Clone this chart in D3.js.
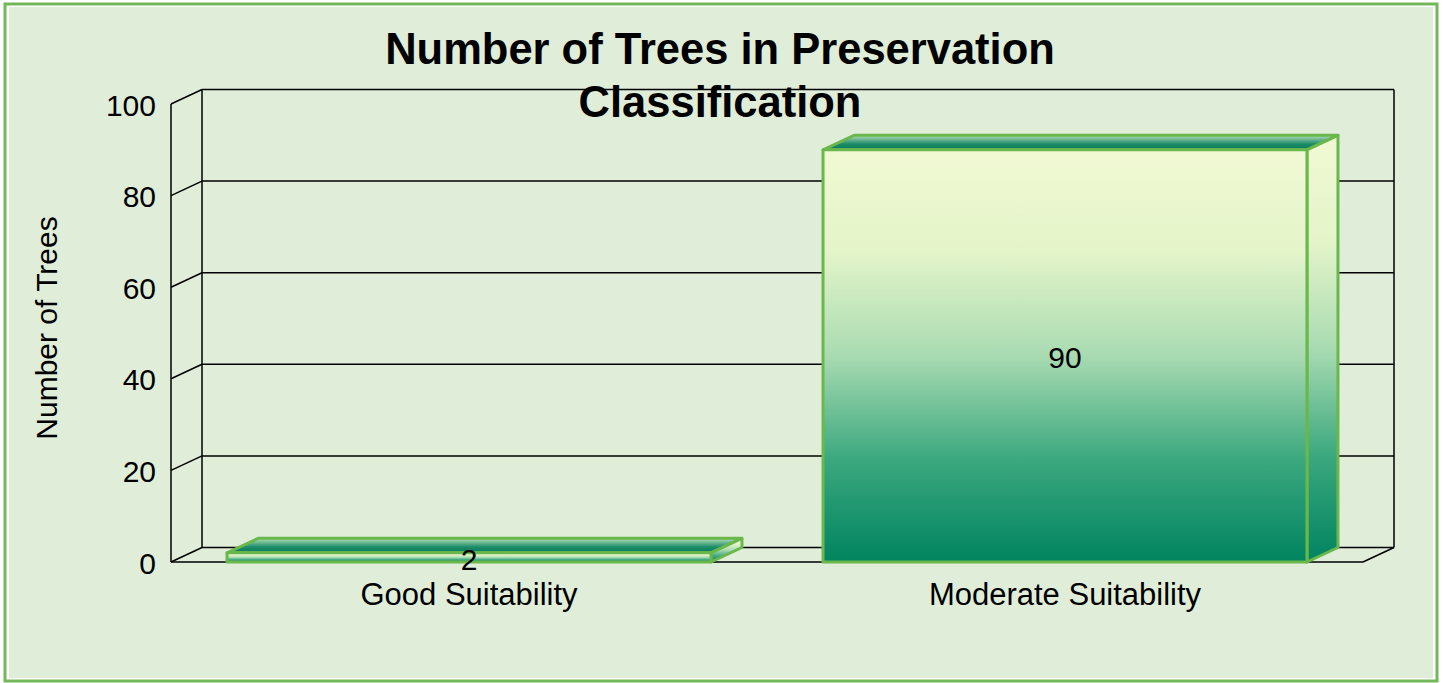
<!DOCTYPE html>
<html>
<head>
<meta charset="utf-8">
<script src="https://cdn.jsdelivr.net/npm/d3@7.9.0/dist/d3.min.js"></script>
<style>
  body { margin: 0; background: #ffffff; }
  svg { display: block; font-family: "Liberation Sans", Arial, sans-serif; }
</style>
</head>
<body>
<svg id="chart" width="1443" height="683"></svg>
<script>
// chart data
const categories = ['Good Suitability', 'Moderate Suitability'];
const values = [2, 90];
const yTicks = [0, 20, 40, 60, 80, 100];
const titleLines = ['Number of Trees in Preservation', 'Classification'];
const yTitle = 'Number of Trees';

const svg = d3.select('#chart');

// outer frame
svg.append('rect')
  .attr('x', 5).attr('y', 4).attr('width', 1432).attr('height', 677)
  .attr('fill', '#ffffff').attr('stroke', '#72b85a').attr('stroke-width', 3);
svg.append('rect')
  .attr('x', 9).attr('y', 7).attr('width', 1424).attr('height', 671)
  .attr('fill', '#e0eed9');

// scales (front plane) + depth offset
const x = d3.scaleBand().domain(categories).range([171, 1363])
  .paddingInner(0.188).paddingOuter(0.094);
const y = d3.scaleLinear().domain([0, 100]).range([562, 104]);
const dx = 31, dy = -14.5;

// gradients
const defs = svg.append('defs');
let g1 = defs.append('linearGradient').attr('id', 'faceGrad')
  .attr('x1', 0).attr('y1', 0).attr('x2', 0).attr('y2', 1);
[[0, '#f1f9d3'], [0.25, '#e4f4c9'], [0.5, '#a9dbb2'], [0.75, '#3ca87f'], [1, '#00845f']]
  .forEach(([o, c]) => g1.append('stop').attr('offset', o).attr('stop-color', c));
let g2 = defs.append('linearGradient').attr('id', 'topGrad')
  .attr('x1', 0).attr('y1', 0).attr('x2', 0).attr('y2', 1);
[[0, '#b8e0b8'], [0.6, '#1a8c68'], [1, '#0a7a5c']]
  .forEach(([o, c]) => g2.append('stop').attr('offset', o).attr('stop-color', c));

const line = (x1, y1, x2, y2) => svg.append('line')
  .attr('x1', x1).attr('y1', y1).attr('x2', x2).attr('y2', y2)
  .attr('stroke', '#000').attr('stroke-width', 1.5);

const [x0, x1] = x.range();

// back wall gridlines + left wall diagonals
yTicks.forEach(t => {
  if (t > 0) line(x0 + dx, y(t) + dy, x1 + dx, y(t) + dy);
  line(x0, y(t), x0 + dx, y(t) + dy);
});
line(x0 + dx, y(100) + dy, x0 + dx, y(0) + dy);
line(x1 + dx, y(100) + dy, x1 + dx, y(0) + dy);
line(x0, y(100), x0, y(0));
// floor
line(x0 + dx, y(0) + dy, x1 + dx, y(0) + dy);
line(x0, y(0), x1, y(0));
line(x1, y(0), x1 + dx, y(0) + dy);

// tick labels
svg.selectAll('.tick').data(yTicks).join('text')
  .attr('x', 156).attr('y', d => y(d) + 1)
  .attr('text-anchor', 'end').attr('dominant-baseline', 'central')
  .attr('font-size', 30).text(d => d);

// bars
categories.forEach((c, i) => {
  const bx = x(c), bw = x.bandwidth(), top = y(values[i]), bot = y(0);
  const grp = svg.append('g').attr('stroke', '#6ab84c').attr('stroke-width', 3)
    .attr('stroke-linejoin', 'round');
  // top face
  grp.append('path')
    .attr('d', `M${bx},${top}L${bx + dx},${top + dy}L${bx + bw + dx},${top + dy}L${bx + bw},${top}Z`)
    .attr('fill', 'url(#topGrad)');
  // side face
  grp.append('path')
    .attr('d', `M${bx + bw},${top}L${bx + bw + dx},${top + dy}L${bx + bw + dx},${bot + dy}L${bx + bw},${bot}Z`)
    .attr('fill', 'url(#faceGrad)');
  // front face
  grp.append('rect')
    .attr('x', bx).attr('y', top).attr('width', bw).attr('height', bot - top)
    .attr('fill', 'url(#faceGrad)');
  // value label
  svg.append('text')
    .attr('x', bx + bw / 2).attr('y', (top + bot) / 2 + 2)
    .attr('text-anchor', 'middle').attr('dominant-baseline', 'central')
    .attr('font-size', 30).text(values[i]);
});

// category labels
svg.selectAll('.cat').data(categories).join('text')
  .attr('x', d => x(d) + x.bandwidth() / 2).attr('y', 605)
  .attr('text-anchor', 'middle').attr('font-size', 31).text(d => d);

// axis title
svg.append('text')
  .attr('transform', 'translate(57,328) rotate(-90)')
  .attr('text-anchor', 'middle').attr('font-size', 30).text(yTitle);

// chart title
titleLines.forEach((t, i) => {
  svg.append('text')
    .attr('x', 720).attr('y', 64 + i * 53)
    .attr('text-anchor', 'middle').attr('font-size', 43.5).attr('font-weight', 'bold')
    .text(t);
});
</script>
</body>
</html>
